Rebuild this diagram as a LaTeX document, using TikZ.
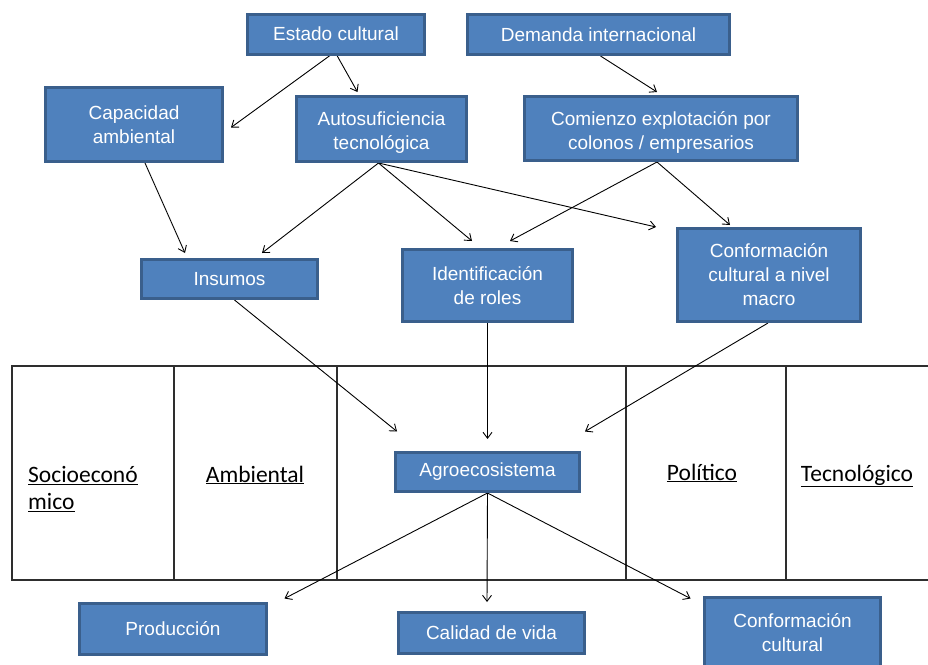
\documentclass[tikz,border=0pt]{standalone}
\usepackage{fontspec}
\setmainfont{Liberation Sans}
\newfontfamily\calibri{Carlito}
\usetikzlibrary{arrows.meta,shadows}
\pgfdeclarelayer{background}
\pgfsetlayers{background,main}
\definecolor{boxfill}{HTML}{4F81BD}
\definecolor{boxedge}{HTML}{3A5F8C}
\definecolor{gridline}{HTML}{2E2E2E}
\tikzset{
  boxtext/.style={text=white, align=center, inner sep=0pt,
    font=\fontsize{19}{24}\selectfont},
  box/.style={boxtext, draw=boxedge, fill=boxfill, line width=3pt,
    drop shadow={shadow xshift=1.5pt, shadow yshift=-1.5pt, opacity=0.3, fill=black}},
  arr/.style={draw=black, line width=0.9pt, -{Straight Barb[length=6pt,width=9pt]}},
  grid/.style={draw=gridline, line width=1.2pt},
  lbl/.style={font=\calibri\fontsize{23.5}{27}\selectfont, text=black, inner sep=0pt}
}
\begin{document}
\begin{tikzpicture}[x=1pt,y=-1pt]
\useasboundingbox (0,0) rectangle (928,664);

% boxes
\node[box, minimum width=177pt, minimum height=40pt] (estado) at (336,34) {Estado cultural};
\node[box, minimum width=262pt, minimum height=40pt] (demanda) at (598.5,34.5) {Demanda internacional};
\node[box, minimum width=177pt, minimum height=74pt] (capacidad) at (134,124.5) {Capacidad\\ambiental};
\node[box, minimum width=170pt, minimum height=65pt,
  label={[boxtext, yshift=-4pt]center:{Autosuficiencia\\tecnológica}}] (auto) at (381.5,129) {};
\node[box, minimum width=273pt, minimum height=64pt,
  label={[boxtext, yshift=-4pt]center:{Comienzo explotación por\\colonos / empresarios}}] (comienzo) at (661,128.5) {};
\node[box, minimum width=176pt, minimum height=39pt] (insumos) at (229.5,279) {Insumos};
\node[box, minimum width=170pt, minimum height=72pt] (ident) at (487.5,285.5) {Identificación\\de roles};
\node[box, minimum width=183pt, minimum height=93pt] (confmacro) at (769,275) {Conformación\\cultural a nivel\\macro};
\node[box, minimum width=184pt, minimum height=39pt] (agro) at (487.5,472) {Agroecosistema};
\node[box, minimum width=187pt, minimum height=51pt] (prod) at (173,629) {Producción};
\node[box, minimum width=186pt, minimum height=41pt] (calidad) at (491.5,633) {Calidad de vida};
\node[box, minimum width=176pt, minimum height=71pt] (confcult) at (792.5,633) {Conformación\\cultural};

% dimension table labels
\node[lbl, anchor=west, align=left] (socio) at (28,489) {\underline{Socioeconó}\\\underline{mico}};
\node[lbl, anchor=base] (amb) at (255,482) {\underline{Ambiental}};
\node[lbl, anchor=base] (pol) at (702,480) {\underline{Político}};
\node[lbl, anchor=base] (tec) at (857,481) {\underline{Tecnológico}};

\begin{pgfonlayer}{background}
  % table of dimensions
  \draw[grid] (940,366) -- (12,366) -- (12,580) -- (940,580);
  \foreach \cx in {174,337,626,786} \draw[grid] (\cx,366) -- (\cx,580);

  % connectors
  \draw[arr] ([xshift=-6pt]estado.south) -- ([xshift=7pt,yshift=-3pt]capacidad.east);
  \draw[arr] ([xshift=1pt]estado.south) -- ([xshift=-24pt,yshift=3pt]auto.north);
  \draw[arr] ([xshift=2pt]demanda.south) -- ([xshift=-4pt,yshift=3pt]comienzo.north);
  \draw[arr] ([xshift=11pt]capacidad.south) -- ([xshift=-44.5pt,yshift=5pt]insumos.north);
  \draw[arr] ([xshift=-3pt]auto.south) -- ([xshift=32.5pt,yshift=5pt]insumos.north);
  \draw[arr] ([xshift=-3pt]auto.south) -- ([xshift=-15.5pt,yshift=7pt]ident.north);
  \draw[arr] ([xshift=-3pt]auto.south) -- ([xshift=-20pt]confmacro.north west);
  \draw[arr] ([xshift=-4pt]comienzo.south) -- ([xshift=22.5pt,yshift=7pt]ident.north);
  \draw[arr] ([xshift=-4pt]comienzo.south) -- ([xshift=-39pt,yshift=2pt]confmacro.north);
  \draw[arr] ([xshift=5pt]insumos.south) -- ([xshift=-90.5pt,yshift=19.5pt]agro.north);
  \draw[arr] (ident.south) -- ([yshift=12pt]agro.north);
  \draw[arr] ([xshift=-1pt]confmacro.south) -- ([xshift=97.5pt,yshift=19.5pt]agro.north);
  \draw[arr] (agro.south) -- ([xshift=16.5pt,yshift=3.5pt]prod.north east);
  \draw[arr] (agro.south) -- ([xshift=-4.5pt,yshift=9pt]calidad.north);
  \draw[arr] (agro.south) -- ([xshift=-12.5pt,yshift=-2.5pt]confcult.north west);
\end{pgfonlayer}
\end{tikzpicture}
\end{document}
